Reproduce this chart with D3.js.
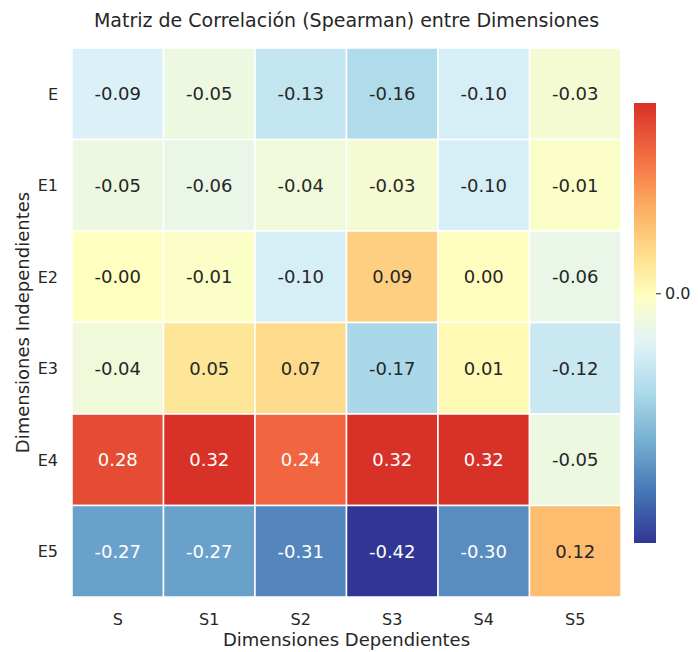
<html>
<head>
  <title>Matriz de Correlación</title>
  <script src="https://d3js.org/d3.v7.min.js"></script>
  <style>
    body { margin: 0; background: #fff; }
    text { font-family: "DejaVu Sans", sans-serif; fill: #262626; }
  </style>
</head>
<body>
<script>
  // data
  var rows = ['E', 'E1', 'E2', 'E3', 'E4', 'E5'];
  var cols = ['S', 'S1', 'S2', 'S3', 'S4', 'S5'];
  var rowE  = [-0.09, -0.05, -0.13, -0.16, -0.10, -0.03];
  var rowE1 = [-0.05, -0.06, -0.04, -0.03, -0.10, -0.01];
  var rowE2 = [-0.001, -0.01, -0.10, 0.09, 0.001, -0.06];
  var rowE3 = [-0.04, 0.05, 0.07, -0.17, 0.01, -0.12];
  var rowE4 = [0.28, 0.32, 0.24, 0.32, 0.32, -0.05];
  var rowE5 = [-0.27, -0.27, -0.31, -0.42, -0.30, 0.12];
  var values = [rowE, rowE1, rowE2, rowE3, rowE4, rowE5];
  var cbarTicks = [0.0];

  var width = 698, height = 652;
  var svg = d3.select('body').append('svg')
    .attr('width', width)
    .attr('height', height);

  // heatmap box
  var mLeft = 72, mTop = 48, size = 549;

  var x = d3.scaleBand().domain(cols).range([mLeft, mLeft + size]);
  var y = d3.scaleBand().domain(rows).range([mTop, mTop + size]);

  // RdYlBu_r centred on 0 (seaborn style); warm side a bit stronger, as in the picture
  var all = d3.merge(values);
  var vmin = d3.min(all), vmax = d3.max(all);
  var vr = Math.max(vmax, -vmin);
  var scheme = d3.schemeRdYlBu[11].slice().reverse();
  var ramp = d3.scaleLinear()
    .domain(d3.range(11).map(function(i) { return i / 10; }))
    .range(scheme)
    .interpolate(d3.interpolateRgb);
  var tNeg = d3.scaleLinear().domain([-vr, 0]).range([0, 0.5]);
  var tPos = d3.scalePow().exponent(0.85).domain([0, vr]).range([0.5, 1]);
  function cmap(v) { return ramp(v < 0 ? tNeg(v) : tPos(v)); }

  function lum(c) {
    var rgb = d3.rgb(c);
    var f = [rgb.r, rgb.g, rgb.b].map(function(v) {
      v = v / 255;
      return v <= 0.03928 ? v / 12.92 : Math.pow((v + 0.055) / 1.055, 2.4);
    });
    return 0.2126 * f[0] + 0.7152 * f[1] + 0.0722 * f[2];
  }

  var cells = [];
  values.forEach(function(r, i) {
    r.forEach(function(v, j) { cells.push({ row: rows[i], col: cols[j], v: v }); });
  });

  var g = svg.append('g');
  g.selectAll('rect')
    .data(cells)
    .enter()
    .append('rect')
    .attr('x', function(d) { return x(d.col); })
    .attr('y', function(d) { return y(d.row); })
    .attr('width', x.bandwidth())
    .attr('height', y.bandwidth())
    .attr('fill', function(d) { return cmap(d.v); })
    .attr('stroke', '#fff')
    .attr('stroke-width', 1.5);

  g.selectAll('text')
    .data(cells)
    .enter()
    .append('text')
    .attr('x', function(d) { return x(d.col) + x.bandwidth() / 2; })
    .attr('y', function(d) { return y(d.row) + y.bandwidth() / 2; })
    .attr('dy', '0.36em')
    .attr('text-anchor', 'middle')
    .style('font-size', '18px')
    .style('fill', function(d) { return lum(cmap(d.v)) > 0.408 ? '#262626' : '#ffffff'; })
    .text(function(d) { return d.v.toFixed(2); });

  // tick labels
  svg.append('g').selectAll('text')
    .data(cols)
    .enter()
    .append('text')
    .attr('x', function(d) { return x(d) + x.bandwidth() / 2; })
    .attr('y', 625)
    .attr('text-anchor', 'middle')
    .style('font-size', '16px')
    .text(function(d) { return d; });

  svg.append('g').selectAll('text')
    .data(rows)
    .enter()
    .append('text')
    .attr('x', 58)
    .attr('y', function(d) { return y(d) + y.bandwidth() / 2; })
    .attr('dy', '0.36em')
    .attr('text-anchor', 'end')
    .style('font-size', '16px')
    .text(function(d) { return d; });

  // titles
  svg.append('text')
    .attr('x', mLeft + size / 2)
    .attr('y', 27)
    .attr('text-anchor', 'middle')
    .style('font-size', '19px')
    .text('Matriz de Correlación (Spearman) entre Dimensiones');

  svg.append('text')
    .attr('x', mLeft + size / 2)
    .attr('y', 646)
    .attr('text-anchor', 'middle')
    .style('font-size', '18px')
    .text('Dimensiones Dependientes');

  svg.append('text')
    .attr('transform', 'translate(29,' + (mTop + size / 2) + ') rotate(-90)')
    .attr('text-anchor', 'middle')
    .style('font-size', '18px')
    .text('Dimensiones Independientes');

  // colorbar
  var cb = { x: 634, y: 103, w: 22, h: 440 };
  var cy = d3.scaleLinear().domain([vmin, vmax]).range([cb.y + cb.h, cb.y]);

  var grad = svg.append('defs').append('linearGradient')
    .attr('id', 'cbar')
    .attr('x1', 0).attr('y1', 1).attr('x2', 0).attr('y2', 0);
  d3.range(0, 1.0001, 0.02).forEach(function(t) {
    grad.append('stop')
      .attr('offset', t)
      .attr('stop-color', cmap(vmin + t * (vmax - vmin)));
  });

  svg.append('rect')
    .attr('x', cb.x)
    .attr('y', cb.y)
    .attr('width', cb.w)
    .attr('height', cb.h)
    .attr('fill', 'url(#cbar)');

  var cax = svg.append('g')
    .attr('transform', 'translate(' + (cb.x + cb.w) + ',0)')
    .call(d3.axisRight(cy).tickValues(cbarTicks).tickFormat(d3.format('.1f')).tickSize(5).tickPadding(4));
  cax.select('.domain').remove();
  cax.selectAll('line').attr('stroke', '#262626');
  cax.selectAll('text')
    .style('font-family', '"DejaVu Sans", sans-serif')
    .style('font-size', '16px')
    .attr('fill', '#262626');
</script>
</body>
</html>
